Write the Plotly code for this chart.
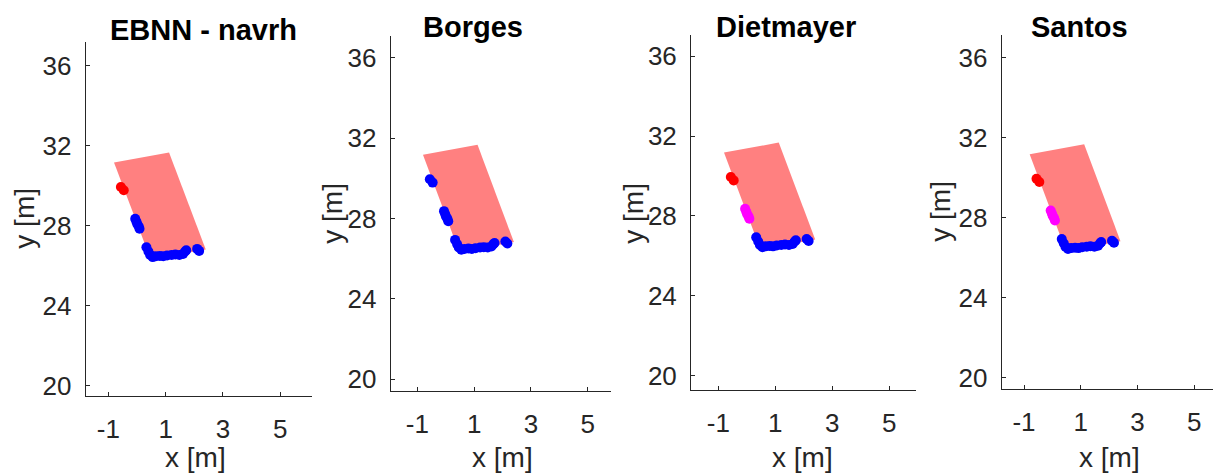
import plotly.graph_objects as go

W, H = 1213, 473

# Panel titles
titles = ["EBNN - navrh", "Borges", "Dietmayer", "Santos"]

# Bounding box of the object (x, y corners, closed polygon)
box_x = [-0.80, 1.12, 2.40, 0.48, -0.80]
box_y = [31.17, 31.67, 26.82, 26.32, 31.17]

# Measured points (x, y) and the segment each belongs to
pts_x = [-0.56, -0.46,
         -0.06, -0.02, 0.01, 0.06, 0.09,
         0.33, 0.40, 0.46, 0.55, 0.66, 0.80, 0.92, 1.05, 1.21, 1.34, 1.48, 1.61, 1.68, 1.72, 2.10, 2.17]
pts_y = [29.95, 29.78,
         28.36, 28.22, 28.10, 27.98, 27.86,
         26.93, 26.72, 26.55, 26.44, 26.48, 26.50, 26.48, 26.52, 26.55, 26.57, 26.55, 26.60, 26.72, 26.78, 26.85, 26.75]
pts_seg = [0, 0,
           1, 1, 1, 1, 1,
           2, 2, 2, 2, 2, 2, 2, 2, 2, 2, 2, 2, 2, 2, 2, 2]

# Colour of each segment in each method's result
seg_colors = [
    ["#ff0000", "#0000ff", "#0000ff"],
    ["#0000ff", "#0000ff", "#0000ff"],
    ["#ff0000", "#ff00ff", "#0000ff"],
    ["#ff0000", "#ff00ff", "#0000ff"],
]

x_ticks = [-1, 1, 3, 5]
x_tick_text = ["-1", "1", "3", "5"]
y_ticks = [20, 24, 28, 32, 36]
y_tick_text = ["20", "24", "28", "32", "36"]

# Panel geometry in pixels: left, right, top, bottom; and axis ranges
panel_px = [
    (85.7, 312.0, 42.0, 400.0),
    (390.7, 611.0, 36.7, 395.0),
    (691.0, 916.0, 35.0, 394.3),
    (1001.7, 1213.0, 35.0, 393.3),
]
x_ranges = [(-1.788, 6.107), (-1.937, 5.820), (-1.958, 5.937), (-1.786, 5.659)]
y_ranges = [(19.505, 37.22), (19.42, 37.06), (19.29, 37.07), (19.43, 37.15)]

title_pos = [(203.0, 30.5), (472.5, 27.5), (785.8, 27.5), (1079.0, 27.5)]
ylabel_pos = [(25.0, 221.0), (333.0, 216.0), (634.0, 216.0), (941.0, 214.0)]
xlabel_pos = [(195.0, 462.0), (502.5, 462.0), (802.5, 462.0), (1109.0, 462.0)]

FONT = "Arial, Liberation Sans, sans-serif"
AX = "#262626"

fig = go.Figure()
annotations = []
for i in range(4):
    sfx = "" if i == 0 else str(i + 1)
    xa, ya = "x" + sfx, "y" + sfx
    fig.add_trace(go.Scatter(
        x=box_x, y=box_y, mode="lines", fill="toself",
        fillcolor="#ff8080", line=dict(width=0, color="#ff8080"),
        xaxis=xa, yaxis=ya, hoverinfo="skip", showlegend=False))
    cols = [seg_colors[i][s] for s in pts_seg]
    fig.add_trace(go.Scatter(
        x=pts_x, y=pts_y, mode="markers",
        marker=dict(size=10, color=cols, line=dict(width=0)),
        xaxis=xa, yaxis=ya, showlegend=False))

    l, r, t, b = panel_px[i]
    common = dict(showline=True, linecolor=AX, linewidth=1, mirror=False,
                  ticks="inside", ticklen=4, tickcolor=AX, tickwidth=1,
                  showgrid=False, zeroline=False,
                  tickfont=dict(family=FONT, size=26, color=AX))
    fig.update_layout(**{
        "xaxis" + sfx: dict(domain=[l / W, r / W], range=list(x_ranges[i]),
                            tickvals=x_ticks, ticktext=x_tick_text, anchor=ya,
                            ticklabelstandoff=10, **common),
        "yaxis" + sfx: dict(domain=[1 - b / H, 1 - t / H], range=list(y_ranges[i]),
                            tickvals=y_ticks, ticktext=y_tick_text, anchor=xa,
                            ticklabelstandoff=8, **common),
    })
    tx, ty = title_pos[i]
    annotations.append(dict(text="<b>" + titles[i] + "</b>", x=tx / W, y=1 - ty / H,
                            xref="paper", yref="paper", xanchor="center", yanchor="middle",
                            showarrow=False, font=dict(family=FONT, size=29, color="#000000")))
    lx, ly = ylabel_pos[i]
    annotations.append(dict(text="y [m]", x=lx / W, y=1 - ly / H, textangle=-90,
                            xref="paper", yref="paper", xanchor="center", yanchor="middle",
                            showarrow=False, font=dict(family=FONT, size=28, color=AX)))
    bx, by = xlabel_pos[i]
    annotations.append(dict(text="x [m]", x=bx / W, y=1 - by / H,
                            xref="paper", yref="paper", xanchor="center", yanchor="middle",
                            showarrow=False, font=dict(family=FONT, size=28, color=AX)))

fig.update_layout(width=W, height=H, margin=dict(l=0, r=0, t=0, b=0),
                  paper_bgcolor="white", plot_bgcolor="white",
                  annotations=annotations)
fig.write_html("out.html")
